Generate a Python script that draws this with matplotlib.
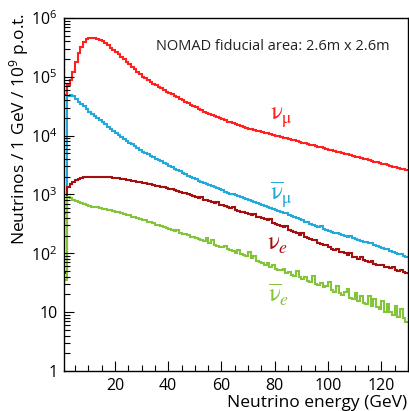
import matplotlib
matplotlib.use('Agg')
import matplotlib.pyplot as plt
import numpy as np
from matplotlib.ticker import MultipleLocator, LogLocator, NullFormatter

plt.rcParams['font.family'] = ['Open Sans', 'DejaVu Sans']
plt.rcParams['mathtext.default'] = 'regular'

# ---- data: 1 GeV bins from 1 to 130 GeV, values given as log10(neutrinos / GeV / 1e9 pot)
bin_edges_gev = list(range(1, 131))

numu_log10 = [
    4.69, 4.86, 4.95, 5.08, 5.25, 5.40, 5.51, 5.59, 5.64, 5.655,
    5.66, 5.655, 5.645, 5.63, 5.605, 5.575, 5.535, 5.495, 5.46, 5.42,
    5.385, 5.345, 5.30, 5.26, 5.22, 5.175, 5.13, 5.09, 5.045, 5.005,
    4.975, 4.945, 4.915, 4.885, 4.86, 4.83, 4.805, 4.775, 4.75, 4.725,
    4.70, 4.675, 4.65, 4.625, 4.60, 4.575, 4.55, 4.525, 4.50, 4.48,
    4.455, 4.435, 4.41, 4.39, 4.37, 4.35, 4.33, 4.31, 4.295, 4.275,
    4.26, 4.24, 4.225, 4.21, 4.195, 4.18, 4.165, 4.15, 4.135, 4.12,
    4.11, 4.10, 4.085, 4.075, 4.06, 4.05, 4.04, 4.025, 4.015, 4.00,
    3.99, 3.98, 3.965, 3.955, 3.94, 3.93, 3.92, 3.905, 3.895, 3.88,
    3.87, 3.86, 3.845, 3.835, 3.82, 3.81, 3.80, 3.785, 3.775, 3.76,
    3.75, 3.74, 3.725, 3.715, 3.70, 3.69, 3.68, 3.665, 3.655, 3.64,
    3.63, 3.62, 3.605, 3.595, 3.58, 3.57, 3.56, 3.545, 3.535, 3.52,
    3.51, 3.50, 3.485, 3.475, 3.46, 3.45, 3.44, 3.425, 3.415,
]

anumu_log10 = [
    2.68, 4.68, 4.69, 4.67, 4.62, 4.58, 4.54, 4.50, 4.45, 4.41,
    4.37, 4.33, 4.295, 4.26, 4.225, 4.19, 4.155, 4.12, 4.085, 4.05,
    4.015, 3.98, 3.945, 3.91, 3.88, 3.85, 3.82, 3.79, 3.76, 3.73,
    3.71, 3.685, 3.66, 3.635, 3.61, 3.59, 3.565, 3.54, 3.515, 3.49,
    3.465, 3.44, 3.42, 3.395, 3.37, 3.345, 3.32, 3.30, 3.275, 3.255,
    3.235, 3.22, 3.20, 3.18, 3.16, 3.14, 3.125, 3.105, 3.085, 3.07,
    3.05, 3.03, 3.015, 3.00, 2.985, 2.97, 2.955, 2.94, 2.92, 2.905,
    2.89, 2.875, 2.86, 2.84, 2.825, 2.81, 2.79, 2.775, 2.755, 2.74,
    2.72, 2.70, 2.685, 2.685, 2.65, 2.63, 2.61, 2.595, 2.58, 2.56,
    2.54, 2.525, 2.505, 2.49, 2.47, 2.45, 2.46, 2.415, 2.40, 2.38,
    2.365, 2.35, 2.34, 2.325, 2.31, 2.295, 2.285, 2.29, 2.255, 2.24,
    2.23, 2.215, 2.20, 2.185, 2.17, 2.17, 2.135, 2.12, 2.10, 2.085,
    2.07, 2.07, 2.035, 2.02, 2.00, 1.985, 1.99, 1.95, 1.935,
]

nue_log10 = [
    1.66, 3.13, 3.18, 3.22, 3.25, 3.27, 3.28, 3.29, 3.295, 3.30,
    3.30, 3.305, 3.30, 3.30, 3.30, 3.295, 3.29, 3.29, 3.285, 3.28,
    3.275, 3.265, 3.26, 3.25, 3.245, 3.235, 3.225, 3.215, 3.205, 3.20,
    3.19, 3.18, 3.17, 3.16, 3.15, 3.14, 3.13, 3.12, 3.11, 3.10,
    3.085, 3.075, 3.06, 3.045, 3.03, 3.02, 3.005, 2.99, 2.975, 2.96,
    2.945, 2.96, 2.915, 2.90, 2.89, 2.875, 2.86, 2.875, 2.83, 2.815,
    2.80, 2.785, 2.77, 2.785, 2.74, 2.725, 2.71, 2.695, 2.68, 2.665,
    2.65, 2.67, 2.62, 2.61, 2.595, 2.58, 2.56, 2.58, 2.52, 2.50,
    2.48, 2.46, 2.44, 2.46, 2.40, 2.38, 2.36, 2.34, 2.32, 2.34,
    2.28, 2.26, 2.24, 2.22, 2.23, 2.18, 2.16, 2.14, 2.15, 2.10,
    2.08, 2.065, 2.08, 2.03, 2.015, 2.00, 1.98, 2.00, 1.945, 1.93,
    1.91, 1.93, 1.88, 1.865, 1.85, 1.87, 1.825, 1.81, 1.80, 1.81,
    1.77, 1.76, 1.745, 1.76, 1.72, 1.705, 1.72, 1.68, 1.665,
]

anue_log10 = [
    1.55, 2.96, 2.935, 2.915, 2.89, 2.87, 2.85, 2.835, 2.82, 2.80,
    2.795, 2.785, 2.78, 2.765, 2.76, 2.755, 2.74, 2.735, 2.72, 2.71,
    2.695, 2.685, 2.665, 2.655, 2.645, 2.625, 2.61, 2.60, 2.585, 2.57,
    2.56, 2.54, 2.525, 2.51, 2.49, 2.475, 2.46, 2.44, 2.425, 2.41,
    2.39, 2.375, 2.40, 2.35, 2.33, 2.33, 2.305, 2.285, 2.28, 2.255,
    2.25, 2.225, 2.21, 2.26, 2.175, 2.22, 2.14, 2.13, 2.115, 2.10,
    2.12, 2.07, 2.05, 2.04, 2.01, 2.06, 1.985, 1.975, 1.95, 2.03,
    1.915, 1.96, 1.875, 1.85, 1.83, 1.81, 1.84, 1.775, 1.80, 1.74,
    1.725, 1.71, 1.74, 1.67, 1.69, 1.635, 1.62, 1.70, 1.59, 1.57,
    1.60, 1.535, 1.52, 1.62, 1.475, 1.46, 1.50, 1.42, 1.44, 1.52,
    1.37, 1.35, 1.45, 1.32, 1.30, 1.34, 1.40, 1.24, 1.23, 1.33,
    1.19, 1.28, 1.15, 1.14, 1.27, 1.10, 1.22, 1.08, 1.05, 1.19,
    1.01, 1.14, 1.00, 0.96, 1.10, 0.92, 1.06, 0.90, 0.84,
]

x_ticks = [20, 40, 60, 80, 100, 120]
y_ticks = [1, 10, 1e2, 1e3, 1e4, 1e5, 1e6]
y_tick_labels = ['1', '10', '$10^{2}$', '$10^{3}$', '$10^{4}$', '$10^{5}$', '$10^{6}$']

series = [
    (numu_log10, '#ff2020', r'$\mathrm{\nu}_{\mathrm{\mu}}$', (0.631, 0.720)),
    (anumu_log10, '#22a9d9', r'$\overline{\mathrm{\nu}}_{\mathrm{\mu}}$', (0.631, 0.499)),
    (nue_log10, '#a3100f', r'$\mathrm{\nu}_{\mathit{e}}$', (0.620, 0.360)),
    (anue_log10, '#84c43a', r'$\overline{\mathrm{\nu}}_{\mathit{e}}$', (0.623, 0.215)),
]

W, H = 409, 411
fig = plt.figure(figsize=(W / 100, H / 100), dpi=100)
ax = fig.add_axes([64.3 / W, 1 - 371 / H, (408 - 64.3) / W, (371 - 18) / H])

edges = np.array(bin_edges_gev, dtype=float)
for vals, color, label, pos in series:
    ax.stairs(10 ** np.array(vals), edges, color=color, lw=1.5, baseline=None)
    ax.text(pos[0], pos[1], label, transform=ax.transAxes, color=color,
            fontsize=18, ha='center', va='center', math_fontfamily='stix')

ax.set_yscale('log')
ax.set_xlim(1, 130)
ax.set_ylim(1, 1e6)
ax.set_xticks(x_ticks)
ax.set_xticklabels([str(v) for v in x_ticks], fontsize=11.5)
ax.xaxis.set_minor_locator(MultipleLocator(5))
ax.set_yticks(y_ticks)
ax.set_yticklabels(y_tick_labels, fontsize=11.5)
ax.yaxis.set_minor_locator(LogLocator(base=10, subs=np.arange(2, 10) * 1.0, numticks=20))
ax.yaxis.set_minor_formatter(NullFormatter())
ax.tick_params(which='both', direction='in', colors='black', width=0.8)
ax.tick_params(which='major', length=7, pad=5)
ax.tick_params(which='minor', length=4)
for s in ax.spines.values():
    s.set_linewidth(1.0)

ax.text(0.606, 0.918, 'NOMAD fiducial area: 2.6m x 2.6m', transform=ax.transAxes,
        fontsize=10.5, ha='center', va='center', color='#222222')

fig.text(407 / W, 1 - 407 / H, 'Neutrino energy (GeV)', fontsize=12.5,
         ha='right', va='baseline')
fig.text(19 / W, 1 - 13 / H, 'Neutrinos / 1 GeV / 10$^{9}$ p.o.t.', fontsize=12.5,
         rotation=90, ha='center', va='top')

fig.savefig('out.png', dpi=100)
